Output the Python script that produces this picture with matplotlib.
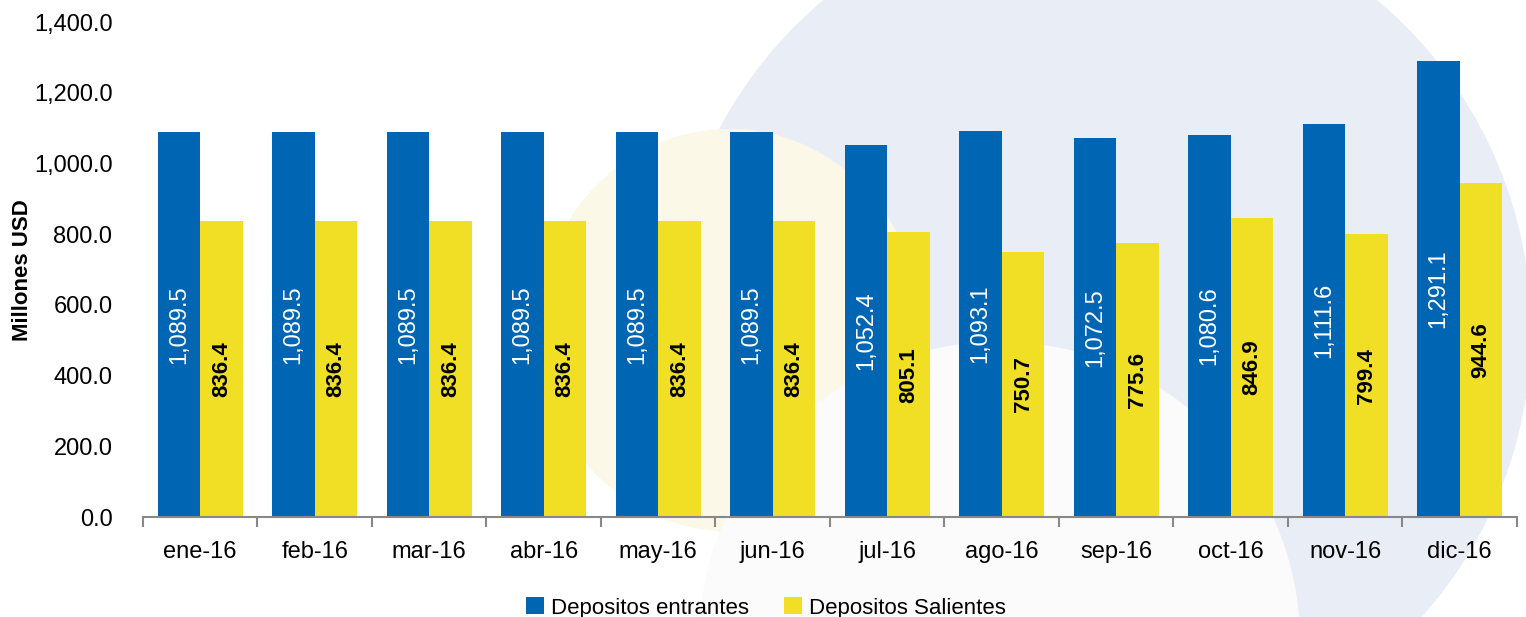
import matplotlib.pyplot as plt
import numpy as np
from matplotlib.patches import Ellipse

plt.rcParams['font.family'] = ['Liberation Sans', 'DejaVu Sans']

meses = ["ene-16", "feb-16", "mar-16", "abr-16", "may-16", "jun-16",
         "jul-16", "ago-16", "sep-16", "oct-16", "nov-16", "dic-16"]
entrantes = [1089.5, 1089.5, 1089.5, 1089.5, 1089.5, 1089.5,
             1052.4, 1093.1, 1072.5, 1080.6, 1111.6, 1291.1]
salientes = [836.4, 836.4, 836.4, 836.4, 836.4, 836.4,
             805.1, 750.7, 775.6, 846.9, 799.4, 944.6]

azul = "#0066b3"
amarillo = "#f0df25"

fig = plt.figure(figsize=(15.26, 6.17), dpi=100)

# faint watermark shapes in the background
fig.patches.append(Ellipse((0.721, 0.465), 0.564, 1.394, transform=fig.transFigure,
                           color="#e9eef6", zorder=-3))
fig.patches.append(Ellipse((0.478, 0.465), 0.25, 0.65, transform=fig.transFigure,
                           color="#fcf8e8", zorder=-2))
fig.patches.append(Ellipse((0.655, -0.04), 0.393, 0.97, transform=fig.transFigure,
                           color="#fbfbfc", zorder=-1))

ax = fig.add_axes([0.0937, 0.162, 0.9004, 0.802])
ax.set_facecolor("none")

x = np.arange(len(meses))
w = 0.372
b1 = ax.bar(x - w / 2, entrantes, w, color=azul, label="Depositos entrantes")
b2 = ax.bar(x + w / 2, salientes, w, color=amarillo, label="Depositos Salientes")

for r, v in zip(b1, entrantes):
    ax.text(r.get_x() + r.get_width() / 2, v / 2, f"{v:,.1f}", rotation=90,
            ha="center", va="center", color="white", fontsize=17)
for r, v in zip(b2, salientes):
    ax.text(r.get_x() + r.get_width() / 2, v / 2, f"{v:,.1f}", rotation=90,
            ha="center", va="center", color="black", fontsize=16,
            fontweight="bold")

ax.set_xlim(-0.5, len(meses) - 0.5)
ax.set_ylim(0, 1400)
ax.set_yticks(np.arange(0, 1401, 200))
ax.set_yticklabels([f"{t:,.1f}" for t in np.arange(0, 1401, 200)], fontsize=17)
ax.set_xticks(x)
ax.set_xticklabels(meses, fontsize=17)
ax.set_xticks(np.arange(-0.5, len(meses), 1), minor=True)
ax.tick_params(axis="x", which="major", length=0, pad=17)
ax.tick_params(axis="x", which="minor", length=7, color="#888888", width=1.5)
ax.tick_params(axis="y", length=0, pad=22)

for s in ["top", "right", "left"]:
    ax.spines[s].set_visible(False)
ax.spines["bottom"].set_color("#888888")
ax.spines["bottom"].set_linewidth(1.5)

ax.set_ylabel("Millones USD", fontsize=16, fontweight="bold")
ax.yaxis.set_label_coords(-0.08, 0.5)

fig.legend(loc="lower center", bbox_to_anchor=(0.502, -0.035), ncol=2, frameon=False,
           fontsize=16, handlelength=0.8, handleheight=0.8, handletextpad=0.3,
           columnspacing=1.6)

fig.savefig("out.png", dpi=100)
